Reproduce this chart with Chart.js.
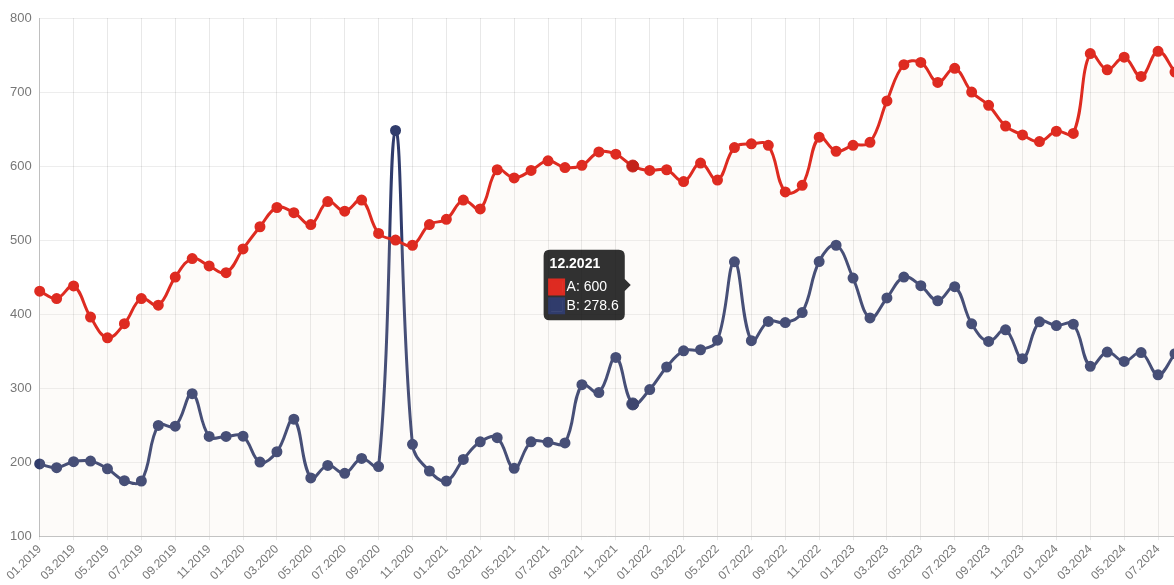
<!DOCTYPE html>
<html>
<head>
<meta charset="utf-8">
<script src="https://cdn.jsdelivr.net/npm/chart.js@4"></script>
<style>
  html, body { margin: 0; padding: 0; background: #fff; overflow: hidden; }
  #wrap { width: 1184px; height: 585px; position: relative; }
</style>
</head>
<body>
<div id="wrap"><canvas id="c"></canvas></div>
<script>
const categories = [
  "01.2019","02.2019","03.2019","04.2019","05.2019","06.2019","07.2019","08.2019","09.2019","10.2019","11.2019","12.2019",
  "01.2020","02.2020","03.2020","04.2020","05.2020","06.2020","07.2020","08.2020","09.2020","10.2020","11.2020","12.2020",
  "01.2021","02.2021","03.2021","04.2021","05.2021","06.2021","07.2021","08.2021","09.2021","10.2021","11.2021","12.2021",
  "01.2022","02.2022","03.2022","04.2022","05.2022","06.2022","07.2022","08.2022","09.2022","10.2022","11.2022","12.2022",
  "01.2023","02.2023","03.2023","04.2023","05.2023","06.2023","07.2023","08.2023","09.2023","10.2023","11.2023","12.2023",
  "01.2024","02.2024","03.2024","04.2024","05.2024","06.2024","07.2024","08.2024"
];
const seriesA = [
  431, 421, 438, 396, 368, 387, 421, 412, 450, 475, 465, 456,
  488, 518, 544, 537, 521, 552, 539, 554, 509, 500, 493, 521,
  528, 554, 542, 595, 584, 594, 607, 598, 601, 619, 616, 600,
  594, 595, 579, 604, 581, 625, 630, 628, 565, 574, 639, 620,
  628, 632, 688, 737, 740, 713, 732, 700, 682, 654, 642, 633,
  647, 644, 752, 730, 747, 721, 755, 727
];
const seriesB = [
  197.5, 192.5, 200.6, 201.5, 191, 175, 174.5, 249.5, 248.5, 292.5, 234.7, 234.7,
  235, 200, 214, 258, 178.6, 195.6, 184.9, 205, 194, 648, 224, 188,
  174.5, 203.6, 227.4, 233, 191.6, 227.4, 227, 226, 304.6, 294, 341.5, 278.6,
  298, 328.5, 350.4, 351.8, 364.8, 470.6, 364, 390, 388.5, 402, 471, 493,
  448.7, 394.8, 421.8, 450, 438.4, 418, 437, 386.8, 363, 378.7, 339.7, 389.5,
  384.5, 386.4, 329.4, 348.7, 336, 348, 318, 346.5
];
const yMin = 100, yMax = 800, yStep = 100;
const activeIndex = 35;

Chart.defaults.font.family = "'Liberation Sans', Arial, Helvetica, sans-serif";
Chart.defaults.font.size = 12;
Chart.defaults.color = '#777';

const RED = 'rgb(222,43,33)';
const RED_DARK = 'rgb(196,34,26)';
const NAVY = 'rgb(48,60,108)';
const NAVY_DARK = 'rgb(38,50,98)';

const chart = new Chart(document.getElementById('c'), {
  type: 'line',
  data: {
    labels: categories,
    datasets: [
      {
        label: 'A', data: seriesA,
        borderColor: RED, backgroundColor: RED,
        pointBackgroundColor: RED, pointBorderColor: RED,
        pointHoverBackgroundColor: RED_DARK, pointHoverBorderColor: RED_DARK,
        borderWidth: 3, pointRadius: 4, pointHoverRadius: 6,
        tension: 0.4,
        fill: { target: 'origin', above: 'rgba(235,220,205,0.12)' }
      },
      {
        label: 'B', data: seriesB,
        borderColor: NAVY, backgroundColor: NAVY,
        pointBackgroundColor: NAVY, pointBorderColor: NAVY,
        pointHoverBackgroundColor: NAVY_DARK, pointHoverBorderColor: NAVY_DARK,
        borderWidth: 3, pointRadius: 4, pointHoverRadius: 6,
        tension: 0.4,
        fill: false
      }
    ]
  },
  options: {
    responsive: true,
    maintainAspectRatio: false,
    animation: false,
    layout: { padding: { top: 18, left: 2, right: 0, bottom: 0 } },
    interaction: { mode: 'index', intersect: false },
    plugins: {
      legend: { display: false },
      tooltip: {
        backgroundColor: 'rgba(20,20,20,0.88)',
        titleFont: { size: 14, weight: 'bold' },
        bodyFont: { size: 14 },
        padding: 6,
        cornerRadius: 6,
        caretSize: 6,
        boxPadding: 1
      }
    },
    scales: {
      x: {
        grid: { color: 'rgba(0,0,0,0.09)', drawTicks: true, tickLength: 4 },
        border: { color: 'rgba(0,0,0,0.18)' },
        ticks: {
          autoSkip: false, maxRotation: 45, minRotation: 45, padding: 2,
          font: { size: 12 },
          callback: function (v, i) { return i % 2 === 0 ? categories[i] : null; }
        }
      },
      y: {
        min: yMin, max: yMax,
        grid: { color: 'rgba(0,0,0,0.07)', drawTicks: false },
        border: { color: 'rgba(0,0,0,0.18)' },
        ticks: { stepSize: yStep, padding: 8, font: { size: 13 } }
      }
    }
  }
});

const act = [{ datasetIndex: 0, index: activeIndex }, { datasetIndex: 1, index: activeIndex }];
const pa = chart.getDatasetMeta(0).data[activeIndex];
const pb = chart.getDatasetMeta(1).data[activeIndex];
chart.setActiveElements(act);
chart.tooltip.setActiveElements(act, { x: pa.x, y: (pa.y + pb.y) / 2 });
chart.update('none');
</script>
</body>
</html>
